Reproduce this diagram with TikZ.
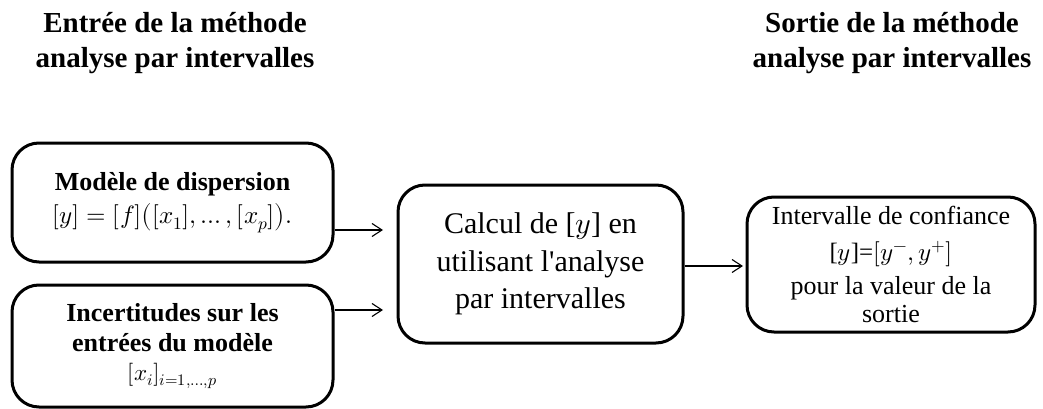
\documentclass[tikz,border=0pt]{standalone}
\usepackage{fontspec}
\usepackage{unicode-math}
\setmainfont{Liberation Serif}
\setmathfont{Latin Modern Math}
\usetikzlibrary{arrows.meta}
\begin{document}
\begin{tikzpicture}[x=1pt,y=-1pt,
  box/.style={draw, line width=3pt, rounded corners=27pt, inner sep=0pt, align=center},
  heading/.style={align=center, font=\bfseries\fontsize{29}{35}\selectfont, anchor=base, inner sep=0pt},
  arr/.style={line width=1.1pt, -{Straight Barb[length=10pt,width=13pt,line width=1.1pt]}}]
\useasboundingbox (0,0) rectangle (1043,409);

% headings (anchored on the baseline of their last line)
\node[heading] (tin) at (175,68) {Entrée de la méthode\\analyse par intervalles};
\node[heading] (tout) at (892,68) {Sortie de la méthode\\analyse par intervalles};

% input boxes
\node[box, minimum width=321pt, minimum height=119pt,
      font=\fontsize{26}{33}\selectfont] (mod) at (172.5,202.5)
  {\textbf{Modèle de dispersion}\\
   {\fontsize{25}{33}\selectfont$[y]=[f]\bigl([x_1],\dots,[x_p]\bigr).$}};
\node[box, minimum width=321pt, minimum height=122pt,
      font=\fontsize{26}{30}\selectfont] (inc) at (172.5,346)
  {\textbf{Incertitudes sur les}\\
   \textbf{entrées du modèle}\\[-1pt]
   {\fontsize{23}{28}\selectfont$[x_i]_{i=1,\dots,p}$}};

% computation box
\node[box, minimum width=285pt, minimum height=158pt,
      font=\fontsize{30}{37.5}\selectfont] (calc) at (540.5,264)
  {Calcul de [$y$] en\\
   utilisant l\textquotesingle analyse\\
   par intervalles};

% output box
\node[box, minimum width=288pt, minimum height=135pt,
      font=\fontsize{26}{31}\selectfont] (res) at (891,264.5)
  {Intervalle de confiance\\[5pt]
   {\fontsize{25}{31}\selectfont[$y$]=$[y^{-},y^{+}]$}\\[3pt]
   pour la valeur de la\\[-3pt]
   sortie};

% connectors
\coordinate (a1) at (383,230);
\coordinate (a2) at (383,310);
\coordinate (a3) at (743,266);
\draw[arr] (mod.east |- a1) -- (a1);
\draw[arr] (inc.east |- a2) -- (a2);
\draw[arr] (calc.east |- a3) -- (a3);
\end{tikzpicture}
\end{document}
